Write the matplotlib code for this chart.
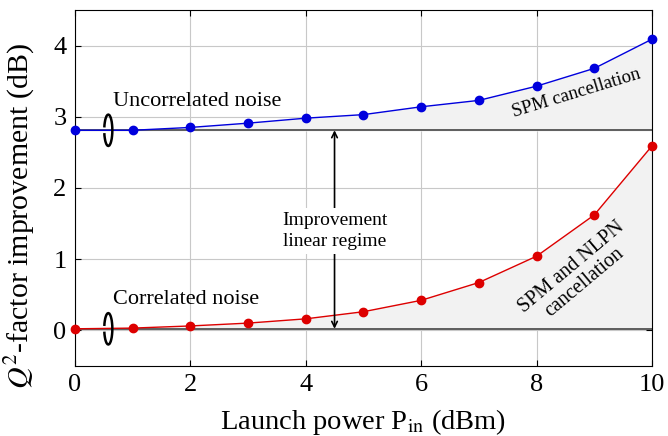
import matplotlib.pyplot as plt
from matplotlib.patches import Arc

plt.rcParams['font.family'] = ['Liberation Serif', 'DejaVu Serif']
plt.rcParams['mathtext.fontset'] = 'stix'

p_in = [0, 1, 2, 3, 4, 5, 6, 7, 8, 9, 10]
q_uncorr = [2.81, 2.81, 2.85, 2.91, 2.98, 3.03, 3.14, 3.23, 3.43, 3.68, 4.09]
q_corr = [0.02, 0.03, 0.06, 0.10, 0.16, 0.26, 0.42, 0.67, 1.04, 1.62, 2.59]
base_uncorr = 2.81
base_corr = 0.02

fig = plt.figure(figsize=(6.68, 4.36), dpi=100)
ax = fig.add_axes([0.112, 0.161, 0.864, 0.816])

ax.fill_between(p_in, base_uncorr, q_uncorr, color='#f2f2f2', zorder=1)
ax.fill_between(p_in, base_corr, q_corr, color='#f2f2f2', zorder=1)
ax.axhline(base_uncorr, color='#444444', lw=1.2, zorder=2)
ax.axhline(base_corr, color='#444444', lw=1.2, zorder=2)

ax.plot(p_in, q_uncorr, '-o', color='#0000dd', lw=1, ms=6, zorder=4, clip_on=False)
ax.plot(p_in, q_corr, '-o', color='#dd0000', lw=1, ms=6, zorder=4, clip_on=False)

# noise "coil" markers
for yb in (base_uncorr, base_corr):
    ax.add_patch(Arc((0.58, yb), 0.14, 0.44, theta1=210, theta2=510,
                     color='black', lw=1.8, zorder=5))

ax.text(0.66, 3.21, 'Uncorrelated noise', fontsize=16, va='center', ha='left', zorder=5)
ax.text(0.66, 0.43, 'Correlated noise', fontsize=16, va='center', ha='left', zorder=5)

ax.annotate('', xy=(4.5, base_uncorr), xytext=(4.5, base_corr),
            arrowprops=dict(arrowstyle='<->', color='black', lw=1.2,
                            shrinkA=0, shrinkB=0), zorder=5)
ax.text(4.5, 1.4, 'Improvement\nlinear regime', fontsize=14, ha='center', va='center',
        linespacing=1.3, zorder=6,
        bbox=dict(facecolor='white', edgecolor='none', pad=3))

ax.text(8.7, 3.33, 'SPM cancellation', fontsize=13.5, rotation=17,
        ha='center', va='center', zorder=5)
ax.text(8.72, 0.78, 'SPM and NLPN\ncancellation', fontsize=14.5, rotation=40,
        ha='center', va='center', linespacing=1.0, zorder=5)

ax.set_xlim(0, 10)
ax.set_ylim(-0.5, 4.5)
ax.set_xticks([0, 2, 4, 6, 8, 10])
ax.set_yticks([0, 1, 2, 3, 4])
ax.grid(True, color='#c8c8c8', lw=0.8, zorder=0)
ax.set_axisbelow(True)
ax.tick_params(direction='in', labelsize=19, top=True, right=True, length=4, pad=6)
ax.set_xlabel(r'Launch power P$_{\mathrm{in}}$ (dBm)', fontsize=20.5, labelpad=8)
ax.set_ylabel(r'$Q^2$-factor improvement (dB)', fontsize=21.5)
ax.yaxis.set_label_coords(-0.066, 0.42)

fig.savefig('out.png', dpi=100)
